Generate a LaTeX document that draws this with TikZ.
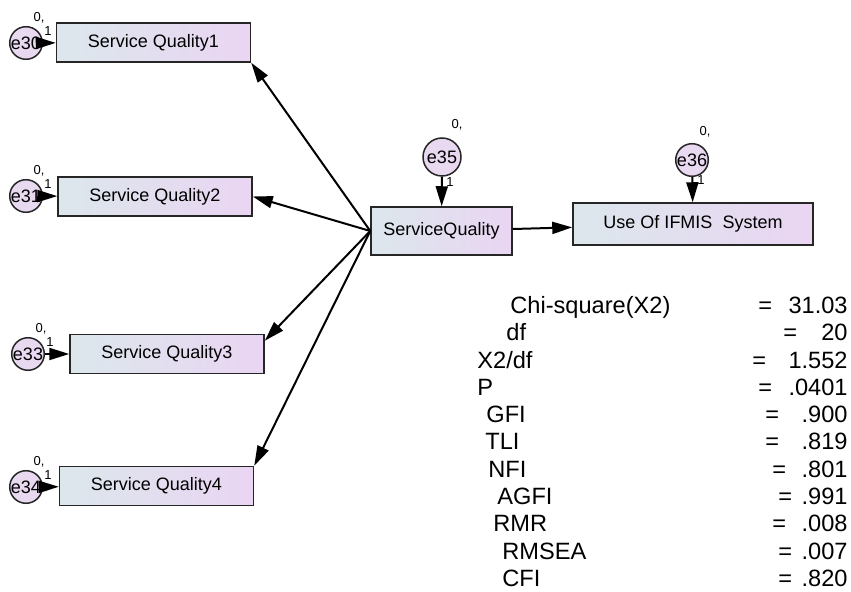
\documentclass[tikz,border=0pt]{standalone}
\usepackage{fontspec}
\setmainfont{Liberation Sans}
\usetikzlibrary{positioning, arrows.meta, calc}
\definecolor{boxleft}{RGB}{220,231,236}
\definecolor{boxright}{RGB}{234,213,242}
\definecolor{errfill}{RGB}{232,216,240}

\begin{document}
\begin{tikzpicture}[
                x=0.5pt, y=-0.5pt,
                >={Triangle[length=10pt, width=6pt]},
                observed/.style={rectangle, draw=black!85, line width=0.75pt, left color=boxleft, right color=boxright, minimum width=97pt, minimum height=19.5pt, inner sep=0pt, font=\fontsize{9}{10}\selectfont},
                errvar/.style={circle, draw=black!85, line width=0.75pt, fill=errfill, minimum size=14pt, inner sep=0pt, font=\fontsize{9}{10}\selectfont},
                weight/.style={inner sep=0pt, font=\fontsize{6.5}{7}\selectfont},
                regpath/.style={->, line width=1pt},
                stat/.style={inner sep=0pt, text height=8.45pt, text depth=0pt, font=\fontsize{11.8}{13}\selectfont},
            ]
                \useasboundingbox (0,0) rectangle (851,592);

                % Draw the observed indicators
                \node[observed] (SQ1) at (153.5,42.5) {Service Quality1};
                \node[observed] (SQ2) at (155,196.5) {Service Quality2};
                \node[observed] (SQ3) at (167,354) {Service Quality3};
                \node[observed] (SQ4) at (156.5,486) {Service Quality4};

                % Draw the latent construct and the outcome
                \node[observed, minimum width=70.5pt, minimum height=24pt] (SQ) at (441.5,231) {ServiceQuality};
                \node[observed, minimum width=120pt, minimum height=21pt] (IFMIS) at (693,224) {Use Of IFMIS~ System};

                % Draw the error terms of the indicators
                \foreach \name / \idx / \x / \y in {30/1/26/43, 31/2/26/196, 33/3/28/354, 34/4/26/487} {
                    \node[errvar] (e\name) at (\x,\y) {e\name};
                    \node[weight] (m\name) at ([shift={(13,-25)}]e\name.center) {0,};
                    \node[weight] (w\name) at ([shift={(22,-12)}]e\name.center) {1};
                    \draw[regpath] (e\name) -- (SQ\idx);
                }

                % Draw the error terms of the two constructs
                \node[errvar, minimum size=19pt] (e35) at (442,157) {e35};
                \node[weight] (m35) at (457,125) {0,};
                \node[weight] (w35) at (450,182) {1};
                \node[errvar, minimum size=16pt] (e36) at (692,160) {e36};
                \node[weight] (m36) at (705,132) {0,};
                \node[weight] (w36) at (701,180) {1};
                \draw[regpath] (e35) -- (SQ);
                \draw[regpath] (e36) -- (IFMIS);

                % Connect the construct with its indicators and the outcome
                \draw[regpath] (SQ.west) -- (SQ1.south east);
                \draw[regpath] (SQ.west) -- (SQ2.east);
                \draw[regpath] (SQ.west) -- ([yshift=-3.5pt]SQ3.north east);
                \draw[regpath] (SQ.west) -- (SQ4.north east);
                \draw[regpath] (SQ) -- (IFMIS);

                % Fit indices
                \foreach \lbl / \lx / \eqx / \val [count=\i] in {
                    Chi-square(X2)/510/758/31.03, df/506/783/20, {X2/df}/477/752/1.552,
                    P/477/758/.0401, GFI/486/765/.900, TLI/485/765/.819, NFI/488/772/.801,
                    AGFI/497/778/.991, RMR/493/772/.008, RMSEA/502/778/.007, CFI/502/778/.820} {
                    \pgfmathsetmacro{\ly}{305+27.3*(\i-1)}
                    \node[stat, anchor=west] (lbl-\i) at (\lx,\ly) {\lbl};
                    \node[stat, anchor=west] (eq-\i) at (\eqx,\ly) {=};
                    \node[stat, anchor=east] (val-\i) at (848,\ly) {\val};
                }
            \end{tikzpicture}
\end{document}
